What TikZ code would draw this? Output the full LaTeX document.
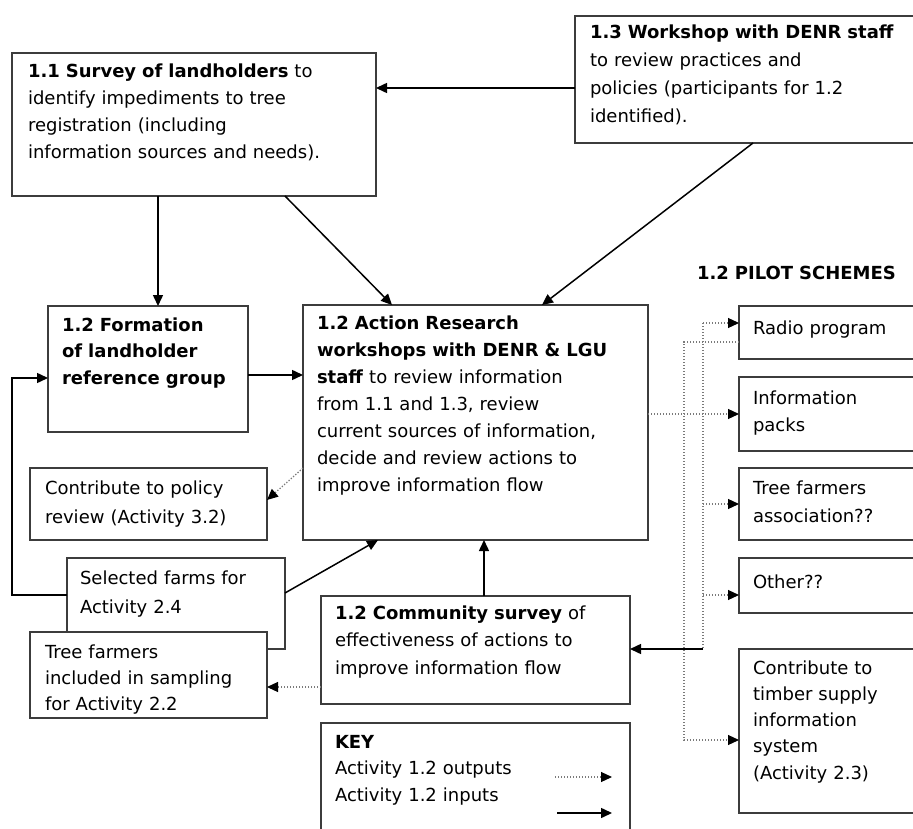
\documentclass[tikz,border=0pt]{standalone}
\usepackage{fontspec}
\setmainfont{DejaVu Sans}
\usetikzlibrary{arrows.meta,calc}
\definecolor{bord}{HTML}{3C3C3C}
\definecolor{dotc}{HTML}{7A7A7A}
\begin{document}
\begin{tikzpicture}[x=1pt,y=-1pt,
  box/.style={draw=bord,line width=1.7pt,fill=white,inner sep=0pt,outer sep=0pt,anchor=north west},
  txt/.style={anchor=base west,inner sep=0pt,outer sep=0pt,align=left,text width=#1,font=\fontsize{18}{27}\selectfont},
  inarr/.style={draw=black,line width=1.5pt,-{Triangle[length=11pt,width=10pt]}},
  dotline/.style={draw=dotc,line width=1.2pt,dash pattern=on 1.3pt off 1.7pt},
  outarr/.style={dotline,-{Triangle[length=11pt,width=10pt,color=black]}}]
\useasboundingbox (0,0) rectangle (913,829);
\clip (0,0) rectangle (913,829);
% boxes
\node[box,minimum width=364pt,minimum height=143pt] (a11) at (12,53) {};
\node[box,minimum width=350pt,minimum height=127pt] (a13) at (575,16) {};
\node[box,minimum width=200pt,minimum height=126pt] (form) at (48,306) {};
\node[box,minimum width=345pt,minimum height=235pt] (act) at (303,305) {};
\node[box,minimum width=237pt,minimum height=72pt] (pol) at (30,468) {};
\node[box,minimum width=218pt,minimum height=91pt] (sel) at (67,558) {};
\node[box,minimum width=237pt,minimum height=86pt] (tree) at (30,632) {};
\node[box,minimum width=309pt,minimum height=108pt] (comm) at (321,596) {};
\node[box,minimum width=309pt,minimum height=130pt] (key) at (321,723) {};
\node[box,minimum width=186pt,minimum height=53pt] (radio) at (739,306) {};
\node[box,minimum width=186pt,minimum height=74pt] (info) at (739,377) {};
\node[box,minimum width=186pt,minimum height=72pt] (tfa) at (739,468) {};
\node[box,minimum width=186pt,minimum height=55pt] (other) at (739,558) {};
\node[box,minimum width=186pt,minimum height=164pt] (timber) at (739,649) {};
% texts
\node[txt=345pt] (t11) at ($(a11.north west)+(16,25)$) {\textbf{1.1 Survey of landholders} to\\identify impediments to tree\\registration (including\\information sources and needs).};
\node[txt=330pt,font=\fontsize{18}{28}\selectfont] (t13) at ($(a13.north west)+(15,23)$) {\textbf{1.3 Workshop with DENR staff}\\to review practices and\\policies (participants for 1.2\\identified).};
\node[txt=190pt,font=\fontsize{18}{26.5}\selectfont\bfseries] (tform) at ($(form.north west)+(14,25)$) {1.2 Formation\\of landholder\\reference group};
\node[txt=330pt] (tact) at ($(act.north west)+(14,24)$) {\textbf{1.2 Action Research}\\\textbf{workshops with DENR \& LGU}\\\textbf{staff} to review information\\from 1.1 and 1.3, review\\current sources of information,\\decide and review actions to\\improve information flow};
\node[txt=230pt,font=\fontsize{18}{29}\selectfont] (tpol) at ($(pol.north west)+(15,26)$) {Contribute to policy\\review (Activity 3.2)};
\node[txt=210pt,font=\fontsize{18}{29}\selectfont] (tsel) at ($(sel.north west)+(13,26)$) {Selected farms for\\Activity 2.4};
\node[txt=230pt,font=\fontsize{18}{26}\selectfont] (ttree) at ($(tree.north west)+(15,26)$) {Tree farmers\\included in sampling\\for Activity 2.2};
\node[txt=300pt,font=\fontsize{18}{27.5}\selectfont] (tcomm) at ($(comm.north west)+(14,23)$) {\textbf{1.2 Community survey} of\\effectiveness of actions to\\improve information flow};
\node[txt=300pt,font=\fontsize{18}{26.5}\selectfont] (tkey) at ($(key.north west)+(14,25)$) {\textbf{KEY}\\Activity 1.2 outputs\\Activity 1.2 inputs};
\node[txt=170pt] (tradio) at ($(radio.north west)+(14,28)$) {Radio program};
\node[txt=170pt] (tinfo) at ($(info.north west)+(14,27)$) {Information\\packs};
\node[txt=170pt,font=\fontsize{18}{28}\selectfont] (ttfa) at ($(tfa.north west)+(14,26)$) {Tree farmers\\association??};
\node[txt=170pt] (tother) at ($(other.north west)+(14,30)$) {Other??};
\node[txt=170pt,font=\fontsize{18}{26.3}\selectfont] (ttimber) at ($(timber.north west)+(14,25)$) {Contribute to\\timber supply\\information\\system\\(Activity 2.3)};
\node[txt=220pt] (pilot) at (697,279) {\textbf{1.2 PILOT SCHEMES}};
% solid input connectors
\draw[inarr] ($(a13.north west)+(0,72)$) -- ($(a11.north east)+(0,35)$);
\draw[inarr] ($(a11.south west)+(146,0)$) -- ($(form.north west)+(110,0)$);
\draw[inarr] ($(a11.south west)+(273,0)$) -- ($(act.north west)+(89,0)$);
\draw[inarr] ($(a13.south west)+(178,0)$) -- ($(act.north west)+(239,0)$);
\draw[inarr] ($(form.north east)+(0,69)$) -- ($(act.north west)+(0,70)$);
\draw[inarr] ($(sel.north west)+(0,37)$) -- ++(-55,0) |- ($(form.north west)+(0,72)$);
\draw[inarr] ($(sel.north east)+(0,35)$) -- ($(act.south west)+(75,0)$);
\draw[inarr] ($(comm.north west)+(163,0)$) -- ($(act.south west)+(181,0)$);
% dotted output connectors
\draw[outarr] ($(act.north west)+(0,163)$) -- ($(pol.north east)+(0,32)$);
\draw[outarr] ($(comm.north west)+(0,91)$) -- ($(tree.north east)+(0,55)$);
\draw[outarr] ($(act.north east)+(0,109)$) -- ($(info.north west)+(0,37)$);
\coordinate (vtop) at ($(radio.north west)+(-36,17)$);
\coordinate (vbot) at ($(comm.north east)+(73,53)$);
\draw[dotline] (vtop) -- (vbot);
\draw[outarr] (vtop) -- (vtop -| radio.west);
\draw[outarr] ($(tfa.north west)+(-36,36)$) -- ($(tfa.north west)+(0,36)$);
\draw[outarr] ($(other.north west)+(-36,37)$) -- ($(other.north west)+(0,37)$);
\draw[inarr] (vbot) -- (vbot -| comm.east);
\draw[outarr] ($(radio.north west)+(0,36)$) -- ++(-55,0) |- ($(timber.north west)+(0,91)$);
% key arrows
\coordinate (k1a) at ($(key.north west)+(234,54)$);
\coordinate (k1b) at ($(key.north west)+(291,54)$);
\coordinate (k2a) at ($(key.north west)+(236,90)$);
\coordinate (k2b) at ($(key.north west)+(291,90)$);
\draw[outarr] (k1a) -- (k1b);
\draw[inarr] (k2a) -- (k2b);
\end{tikzpicture}
\end{document}
